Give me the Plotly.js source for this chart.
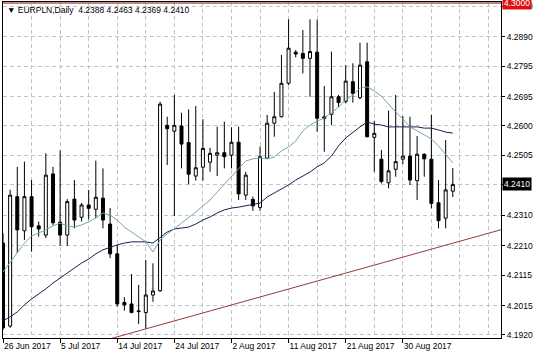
<!DOCTYPE html>
<html><head><meta charset="utf-8">
<script src="https://cdn.plot.ly/plotly-3.0.1.min.js"></script>
<style>html,body{margin:0;padding:0;background:#fff;}#chart{width:536px;height:357px;}</style>
</head><body><div id="chart"></div>
<script>
const symbol = 'EURPLN,Daily';
const dates = ['2017-06-26','2017-06-27','2017-06-28','2017-06-29','2017-06-30','2017-07-02','2017-07-03','2017-07-04','2017-07-05','2017-07-06',
 '2017-07-07','2017-07-09','2017-07-10','2017-07-11','2017-07-12','2017-07-13','2017-07-14','2017-07-16','2017-07-17','2017-07-18',
 '2017-07-19','2017-07-20','2017-07-21','2017-07-23','2017-07-24','2017-07-25','2017-07-26','2017-07-27','2017-07-28','2017-07-30',
 '2017-07-31','2017-08-01','2017-08-02','2017-08-03','2017-08-04','2017-08-06','2017-08-07','2017-08-08','2017-08-09','2017-08-10',
 '2017-08-11','2017-08-13','2017-08-14','2017-08-15','2017-08-16','2017-08-17','2017-08-18','2017-08-20','2017-08-21','2017-08-22',
 '2017-08-23','2017-08-24','2017-08-25','2017-08-27','2017-08-28','2017-08-29','2017-08-30','2017-08-31','2017-09-01','2017-09-03',
 '2017-09-04','2017-09-05','2017-09-06','2017-09-07'];
const open = [4.2219,4.1949,4.2370,4.2259,4.2370,4.2275,4.2245,4.2444,4.2287,4.2245,
 4.2362,4.2303,4.2343,4.2329,4.2365,4.2281,4.2184,4.2026,4.2021,4.1996,
 4.1993,4.2050,4.2064,4.2602,4.2583,4.2600,4.2546,4.2437,4.2466,4.2482,
 4.2505,4.2513,4.2505,4.2547,4.2375,4.2361,4.2335,4.2495,4.2609,4.2630,
 4.2739,4.2840,4.2836,4.2820,4.2840,4.2624,4.2638,4.2695,4.2679,4.2744,
 4.2692,4.2809,4.2563,4.2492,4.2415,4.2459,4.2492,4.2502,4.2422,4.2508,
 4.2492,4.2350,4.2300,4.2388];
const high = [4.2251,4.2392,4.2467,4.2484,4.2424,4.2289,4.2511,4.2467,4.2520,4.2362,
 4.2424,4.2349,4.2392,4.2487,4.2462,4.2333,4.2213,4.2043,4.2118,4.2083,
 4.2164,4.2153,4.2679,4.2630,4.2701,4.2643,4.2654,4.2665,4.2622,4.2529,
 4.2598,4.2614,4.2596,4.2598,4.2451,4.2370,4.2533,4.2636,4.2711,4.2831,
 4.2947,4.2847,4.2912,4.2947,4.2946,4.2730,4.2842,4.2701,4.2798,4.2804,
 4.2871,4.2871,4.2617,4.2522,4.2650,4.2701,4.2632,4.2630,4.2567,4.2511,
 4.2636,4.2424,4.2554,4.2463];
const low = [4.1936,4.1943,4.2187,4.2229,4.2191,4.2240,4.2235,4.2278,4.2210,4.2210,
 4.2267,4.2289,4.2296,4.2300,4.2267,4.2170,4.2012,4.1999,4.1991,4.1956,
 4.1940,4.2028,4.2060,4.2473,4.2307,4.2462,4.2410,4.2422,4.2422,4.2451,
 4.2437,4.2462,4.2462,4.2359,4.2359,4.2324,4.2324,4.2493,4.2565,4.2628,
 4.2733,4.2823,4.2771,4.2695,4.2581,4.2516,4.2603,4.2661,4.2674,4.2676,
 4.2687,4.2563,4.2451,4.2413,4.2397,4.2435,4.2476,4.2408,4.2359,4.2435,
 4.2332,4.2267,4.2267,4.2369];
const close = [4.1943,4.2375,4.2262,4.2370,4.2272,4.2265,4.2440,4.2285,4.2245,4.2354,
 4.2294,4.2343,4.2332,4.2368,4.2294,4.2184,4.2021,4.2018,4.1993,4.1998,
 4.2050,4.2063,4.2671,4.2591,4.2602,4.2541,4.2443,4.2464,4.2527,4.2511,
 4.2513,4.2500,4.2547,4.2379,4.2440,4.2340,4.2500,4.2609,4.2630,4.2739,
 4.2853,4.2834,4.2820,4.2842,4.2625,4.2630,4.2695,4.2676,4.2746,4.2706,
 4.2798,4.2565,4.2576,4.2419,4.2454,4.2484,4.2502,4.2424,4.2508,4.2493,
 4.2348,4.2292,4.2392,4.2410];
const maFast = [4.2125,4.2157,4.2187,4.2219,4.2242,4.2252,4.2262,4.2275,4.2284,4.2275,
 4.2271,4.2278,4.2288,4.2301,4.2317,4.2310,4.2294,4.2271,4.2255,4.2239,
 4.2223,4.2190,4.2229,4.2249,4.2265,4.2284,4.2301,4.2320,4.2340,4.2359,
 4.2385,4.2411,4.2437,4.2463,4.2486,4.2493,4.2496,4.2493,4.2499,4.2519,
 4.2532,4.2551,4.2584,4.2603,4.2616,4.2626,4.2642,4.2662,4.2684,4.2701,
 4.2723,4.2727,4.2714,4.2697,4.2671,4.2645,4.2623,4.2597,4.2584,4.2571,
 4.2558,4.2535,4.2506,4.2480];
const maSlow = [4.1966,4.1979,4.1995,4.2018,4.2037,4.2053,4.2070,4.2089,4.2105,4.2122,
 4.2138,4.2154,4.2167,4.2184,4.2197,4.2206,4.2213,4.2219,4.2223,4.2223,
 4.2223,4.2219,4.2236,4.2255,4.2265,4.2268,4.2271,4.2281,4.2294,4.2304,
 4.2317,4.2327,4.2333,4.2336,4.2340,4.2346,4.2349,4.2369,4.2382,4.2395,
 4.2408,4.2424,4.2437,4.2450,4.2467,4.2480,4.2502,4.2535,4.2561,4.2580,
 4.2597,4.2613,4.2606,4.2603,4.2597,4.2597,4.2597,4.2597,4.2597,4.2593,
 4.2593,4.2587,4.2580,4.2577];
const tickDates = ['2017-06-26','2017-07-05','2017-07-14','2017-07-24','2017-08-02','2017-08-11','2017-08-21','2017-08-30'];
const tickLabels = ['26 Jun 2017','5 Jul 2017','14 Jul 2017','24 Jul 2017','2 Aug 2017','11 Aug 2017','21 Aug 2017','30 Aug 2017'];
const priceTicks = [4.1920,4.2015,4.2115,4.2210,4.2310,4.2410,4.2505,4.2600,4.2695,4.2795,4.2890,4.2990];
const levelPrice = 4.3000;
const trendBars = [14, 70];
const trendPrice = [4.1901, 4.2264];

const idx = dates.map((d, i) => i);
const tickIdx = tickDates.map(d => dates.indexOf(d));
const gridIdx = idx.filter(i => i % 4 === 0).concat([64, 68]);
const last = dates.length - 1;
const fmt = v => v.toFixed(4);
const FONT = 'Liberation Sans, Arial, sans-serif';
// the current-price box sits on top of its own grid label, so that label is left blank
const priceTickText = priceTicks.map(v => fmt(v) === fmt(close[last]) ? '' : fmt(v));

const traces = [
  {type: 'scatter', mode: 'lines', x: trendBars, y: trendPrice, line: {color: '#993838', width: 1}, hoverinfo: 'skip'},
  {type: 'scatter', mode: 'lines', x: idx, y: maSlow, line: {color: '#1c1c52', width: 1}, hoverinfo: 'skip'},
  {type: 'scatter', mode: 'lines', x: idx, y: maFast, line: {color: '#72a6b0', width: 1}, hoverinfo: 'skip'},
  {type: 'candlestick', x: idx, open: open, high: high, low: low, close: close, whiskerwidth: 0,
   increasing: {line: {color: '#000', width: 1}, fillcolor: '#ffffff'},
   decreasing: {line: {color: '#000', width: 1}, fillcolor: '#000000'}}
];

const layout = {
  width: 536, height: 357,
  margin: {l: 3, r: 35, t: 2, b: 19},
  paper_bgcolor: '#fff', plot_bgcolor: '#fff',
  showlegend: false,
  boxgap: 0.4,
  font: {family: FONT, size: 8.5, color: '#000'},
  xaxis: {
    type: 'linear', range: [0, 69.75], rangeslider: {visible: false},
    tickmode: 'array', tickvals: tickIdx, ticktext: tickLabels,
    ticks: 'outside', ticklen: 4, tickcolor: '#000',
    ticklabelposition: 'outside right',
    showgrid: false, zeroline: false,
    showline: true, linecolor: '#000', linewidth: 1, mirror: true,
    tickfont: {family: FONT, size: 8.5, color: '#000'},
    minor: {tickmode: 'array', tickvals: gridIdx, showgrid: true, gridcolor: '#c4c4c4', griddash: '4px,3px', gridwidth: 1, ticks: ''}
  },
  yaxis: {
    side: 'right', range: [4.19102, 4.30033],
    tickmode: 'array', tickvals: priceTicks, ticktext: priceTickText,
    ticks: 'outside', ticklen: 3, tickcolor: '#000',
    showgrid: true, gridcolor: '#c4c4c4', griddash: '4px,3px', gridwidth: 1,
    zeroline: false, showline: true, linecolor: '#000', linewidth: 1, mirror: true,
    tickfont: {family: FONT, size: 8.5, color: '#000'}
  },
  shapes: [
    {type: 'line', xref: 'paper', x0: 0, x1: 1, yref: 'y', y0: levelPrice, y1: levelPrice,
     line: {color: '#b05a5a', width: 1.5}}
  ],
  annotations: [
    {xref: 'paper', yref: 'paper', x: 0, y: 1, xanchor: 'left', yanchor: 'top', xshift: 2, yshift: -1,
     showarrow: false, align: 'left',
     text: '\u25BC ' + symbol + '  ' + [open[last], high[last], low[last], close[last]].map(fmt).join(' '),
     font: {family: FONT, size: 8.5, color: '#000'}},
    {xref: 'paper', yref: 'y', x: 1, y: close[last], xanchor: 'left', yanchor: 'middle', xshift: 1,
     showarrow: false, text: fmt(close[last]), bgcolor: '#000', borderpad: 1,
     font: {family: FONT, size: 8.5, color: '#fff'}},
    {xref: 'paper', yref: 'y', x: 1, y: levelPrice, xanchor: 'left', yanchor: 'middle', xshift: 1,
     showarrow: false, text: fmt(levelPrice), bgcolor: '#e01010', borderpad: 1,
     font: {family: FONT, size: 8.5, color: '#fff'}}
  ]
};

Plotly.newPlot('chart', traces, layout, {staticPlot: true, displayModeBar: false});
</script>
</body></html>
